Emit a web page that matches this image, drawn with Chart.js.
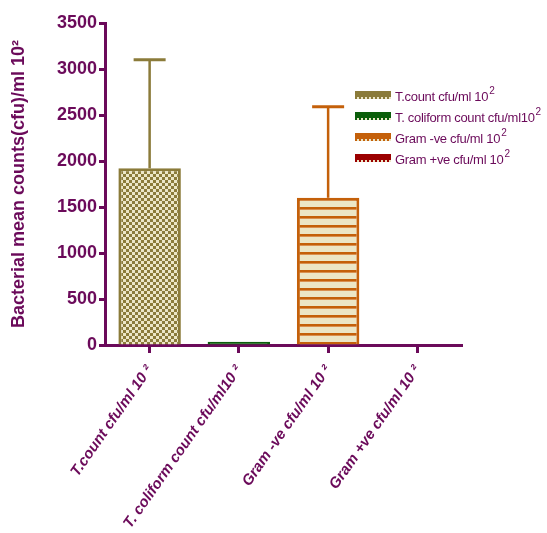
<!DOCTYPE html>
<html>
<head>
<meta charset="utf-8">
<script src="https://cdn.jsdelivr.net/npm/chart.js@4"></script>
<style>
  html, body { margin: 0; padding: 0; background: #fff; }
  #wrap { width: 547px; height: 533px; }
</style>
</head>
<body>
<div id="wrap"><canvas id="myChart" width="547" height="533"></canvas></div>
<script>
// data
var categories = ['T.count cfu/ml 10 \u00b2', 'T. coliform count cfu/ml10 \u00b2', 'Gram -ve cfu/ml 10 \u00b2', 'Gram +ve cfu/ml 10 \u00b2'];
var means = [1920, 35, 1600, 5];
var errors = [1180, 0, 990, 0];
var legendNames = ['T.count cfu/ml 10', 'T. coliform count cfu/ml10', 'Gram -ve cfu/ml 10', 'Gram +ve cfu/ml 10'];
var yTicks = [0, 500, 1000, 1500, 2000, 2500, 3000, 3500];

var purple = '#6b0a5a';
var olive = '#8b7b3a', cream = '#ece6c6', green = '#0b5e0b', orange = '#c4600a', darkred = '#9b0000';

function checker() {
  var c = document.createElement('canvas');
  c.width = 6; c.height = 6;
  var g = c.getContext('2d');
  g.fillStyle = olive; g.fillRect(0, 0, 6, 6);
  g.fillStyle = cream; g.fillRect(0, 0, 3, 3); g.fillRect(3, 3, 3, 3);
  return g.createPattern(c, 'repeat');
}
function stripes() {
  var c = document.createElement('canvas');
  c.width = 4; c.height = 9;
  var g = c.getContext('2d');
  g.fillStyle = cream; g.fillRect(0, 0, 4, 9);
  g.fillStyle = orange; g.fillRect(0, 0, 4, 2);
  g.fillStyle = '#d99050'; g.fillRect(0, 2, 4, 1);
  return g.createPattern(c, 'repeat');
}

var ctx = document.getElementById('myChart').getContext('2d');
var fills = [checker(), green, stripes(), darkred];
var lines = [olive, green, orange, darkred];

var errorBars = {
  id: 'errorBars',
  afterDatasetsDraw: function(chart) {
    var meta = chart.getDatasetMeta(0);
    var y = chart.scales.y;
    var c = chart.ctx;
    c.save();
    meta.data.forEach(function(bar, i) {
      if (!errors[i]) return;
      var top = y.getPixelForValue(means[i] + errors[i]);
      var base = y.getPixelForValue(means[i]);
      c.strokeStyle = lines[i];
      c.lineWidth = 2.5;
      c.beginPath(); c.moveTo(bar.x, base); c.lineTo(bar.x, top); c.stroke();
      c.lineWidth = 3;
      c.beginPath(); c.moveTo(bar.x - 16, top); c.lineTo(bar.x + 16, top); c.stroke();
    });
    c.restore();
  }
};

var boxLegend = {
  id: 'boxLegend',
  afterDraw: function(chart) {
    var c = chart.ctx;
    var ys = [96, 117, 138, 159];
    c.save();
    for (var i = 0; i < legendNames.length; i++) {
      var y = ys[i];
      c.fillStyle = lines[i];
      c.fillRect(355, y - 5, 36, 8);
      c.fillStyle = cream;
      for (var x = 357; x < 390; x += 4) c.fillRect(x, y + 1, 2, 2);
      c.fillStyle = purple;
      c.font = '13px "Liberation Sans", Arial, sans-serif';
      c.letterSpacing = '-0.3px';
      c.textBaseline = 'middle';
      c.textAlign = 'left';
      c.fillText(legendNames[i], 395, y + 1);
      var w = c.measureText(legendNames[i]).width;
      c.font = '10px "Liberation Sans", Arial, sans-serif';
      c.fillText('2', 395 + w + 1, y - 5);
    }
    c.restore();
  }
};

var myChart = new Chart(ctx, {
  type: 'bar',
  data: {
    labels: categories,
    datasets: [{
      label: 'Bacterial mean counts',
      data: means,
      backgroundColor: fills,
      borderColor: lines,
      borderWidth: 3,
      borderSkipped: 'start',
      barPercentage: 0.7,
      categoryPercentage: 1
    }]
  },
  options: {
    responsive: false,
    animation: false,
    layout: { padding: { left: 5, top: 23, right: 85, bottom: 0 } },
    plugins: {
      legend: { display: false },
      tooltip: { enabled: false }
    },
    scales: {
      x: {
        z: 1,
        grid: { display: true, drawOnChartArea: false, offset: false, tickLength: 8, tickWidth: 3, tickColor: purple },
        border: { display: true, color: purple, width: 3 },
        ticks: {
          autoSkip: false, minRotation: 55, maxRotation: 55, padding: 9,
          color: purple,
          font: { family: '"Liberation Sans", Arial, sans-serif', size: 15, weight: 'bold', style: 'italic' }
        },
        afterFit: function(s) { s.height = 533 - 345; }
      },
      y: {
        z: 1,
        min: 0, max: 3500,
        afterBuildTicks: function(s) { s.ticks = yTicks.map(function(v) { return { value: v }; }); },
        grid: { display: true, drawOnChartArea: false, tickLength: 6, tickWidth: 3, tickColor: purple },
        border: { display: true, color: purple, width: 3 },
        ticks: {
          padding: 2, color: purple,
          callback: function(v) { return String(v); },
          font: { family: '"Liberation Sans", Arial, sans-serif', size: 18, weight: 'bold' }
        },
        title: {
          display: true,
          text: 'Bacterial mean counts(cfu)/ml 10\u00b2',
          color: purple,
          padding: { top: 3, bottom: 3 },
          font: { family: '"Liberation Sans", Arial, sans-serif', size: 18, weight: 'bold' }
        },
        afterFit: function(s) { s.width = 105 - 5; }
      }
    }
  },
  plugins: [errorBars, boxLegend]
});
</script>
</body>
</html>
